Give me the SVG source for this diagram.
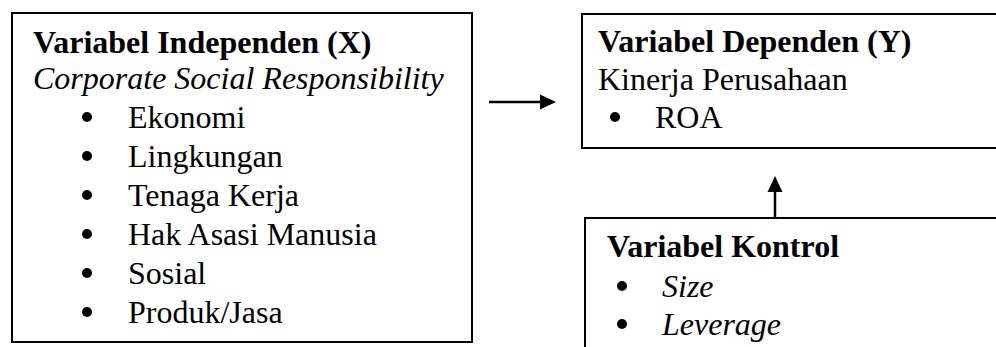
<svg xmlns="http://www.w3.org/2000/svg" width="996" height="347" viewBox="0 0 996 347">
<style>
.box{fill:#fff;stroke:#000;stroke-width:2}
text{font-family:"Liberation Serif","Times New Roman",serif;font-size:32px;fill:#000}
.b{font-weight:bold}
.i{font-style:italic}
.conn{stroke:#000;stroke-width:2.5;fill:none}
</style>
<defs>
<marker id="ah" markerWidth="16" markerHeight="16" refX="0" refY="0" viewBox="0 -8 16 16" markerUnits="userSpaceOnUse" orient="auto">
<path d="M0,-7.5 L16,0 L0,7.5 Z" fill="#000"/>
</marker>
</defs>
<rect width="996" height="347" fill="#fff"/>
<g id="independen">
<rect class="box" x="12" y="13" width="460" height="329"/>
<text class="b" x="33" y="53">Variabel Independen (X)</text>
<text class="i" x="33" y="89">Corporate Social Responsibility</text>
<circle cx="87" cy="117" r="5"/><text x="128" y="128">Ekonomi</text>
<circle cx="87" cy="156" r="5"/><text x="128" y="167">Lingkungan</text>
<circle cx="87" cy="195" r="5"/><text x="128" y="206">Tenaga Kerja</text>
<circle cx="87" cy="234" r="5"/><text x="128" y="245">Hak Asasi Manusia</text>
<circle cx="87" cy="273" r="5"/><text x="128" y="284">Sosial</text>
<circle cx="87" cy="312" r="5"/><text x="128" y="323">Produk/Jasa</text>
</g>
<g id="dependen">
<rect class="box" x="582" y="14" width="420" height="134"/>
<text class="b" x="598" y="52">Variabel Dependen (Y)</text>
<text x="598" y="90">Kinerja Perusahaan</text>
<circle cx="615" cy="117" r="5"/><text x="655" y="128">ROA</text>
</g>
<g id="kontrol">
<rect class="box" x="585" y="218" width="420" height="140"/>
<text class="b" x="607" y="257">Variabel Kontrol</text>
<circle cx="622" cy="286" r="5"/><text class="i" x="662" y="297">Size</text>
<circle cx="622" cy="324" r="5"/><text class="i" x="662" y="335">Leverage</text>
</g>
<g id="connectors">
<line class="conn" x1="489" y1="102" x2="540" y2="102" marker-end="url(#ah)"/>
<line class="conn" x1="775" y1="217" x2="775" y2="192" marker-end="url(#ah)"/>
</g>
</svg>
